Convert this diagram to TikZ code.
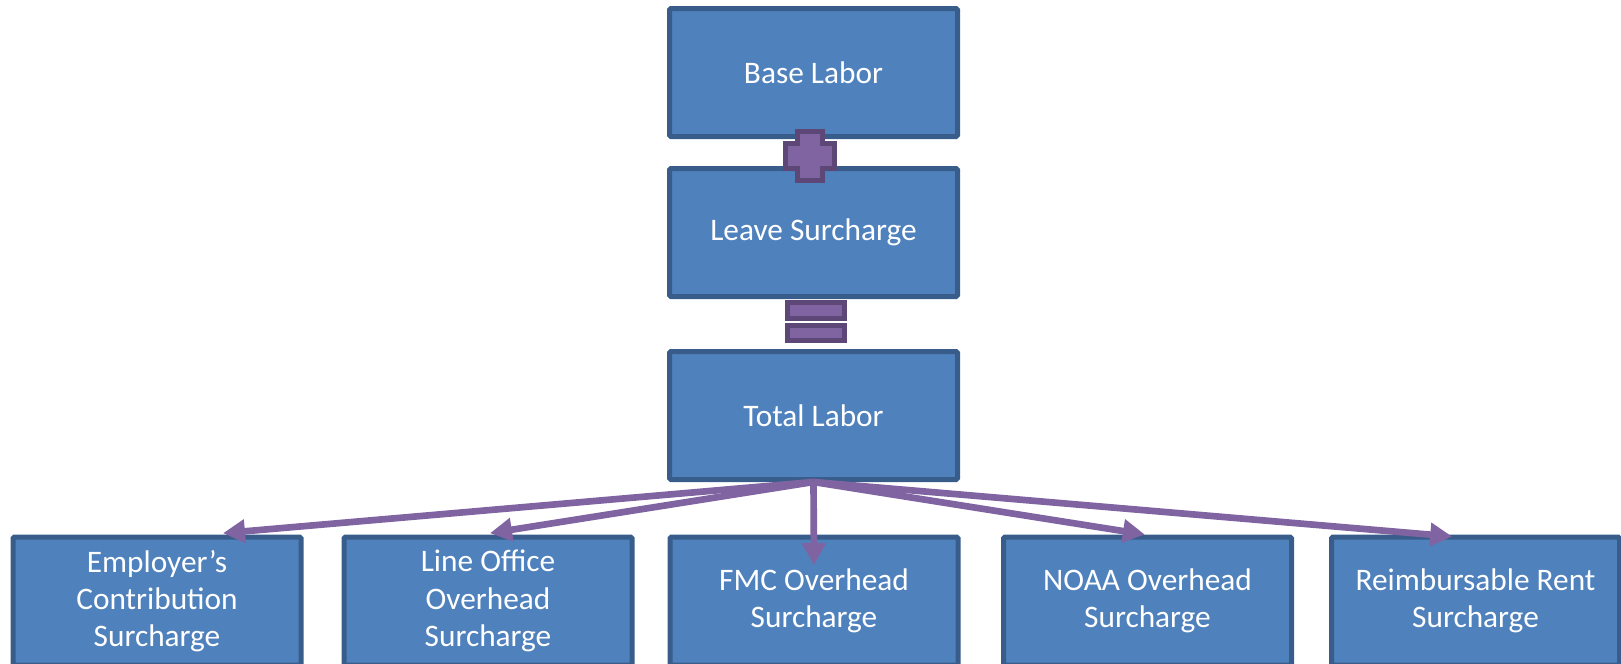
\documentclass[tikz,border=0pt]{standalone}
\usepackage{fontspec}
\setmainfont{Carlito}
\usetikzlibrary{arrows.meta}

\definecolor{boxfill}{HTML}{4F81BD}
\definecolor{boxline}{HTML}{385D8A}
\definecolor{opfill}{HTML}{8064A2}
\definecolor{opline}{HTML}{5C4776}

\begin{document}
\begin{tikzpicture}[%show background rectangle,
        x=0.75pt, y=-0.75pt, % 1 Einheit = 1 Pixel
        font=\fontsize{23.5}{28}\selectfont,
        box/.style={draw=boxline, fill=boxfill, line width=3.75pt,
            minimum width=216pt, minimum height=96pt, inner sep=0pt,
            text=white, align=center, rounded corners=1pt},
        op/.style={draw=opline, fill=opfill, line width=3.75pt},
        flow/.style={draw=opfill, line width=5pt},
        >={Triangle[length=16.5pt,width=17pt]} % Voreinstellung für Pfeilspitzen
        ]
            \useasboundingbox (0,0) rectangle (1621,664);

            % Kästen oben
            \node[box] (base)  at (813.5,72.5) {Base Labor};
            \node[box] (leave) at (813.5,232.5) {Leave Surcharge};
            \node[box] (total) at (813.5,415.5) {Total Labor};

            % Kästen unten
            \node[box] (emp)    at (157,601)    {Employer’s\\Contribution\\Surcharge};
            \node[box] (office) at (488,601)    {Line Office\\Overhead\\Surcharge};
            \node[box] (fmc)    at (814,601)    {FMC Overhead\\Surcharge};
            \node[box] (noaa)   at (1147.5,601) {NOAA Overhead\\Surcharge};
            \node[box] (rent)   at (1475.5,601) {Reimbursable Rent\\Surcharge};

            % Plus, Gleich
            \draw[op] (797.5,131) -- (822.5,131) -- (822.5,143) -- (834.5,143)
                      -- (834.5,168) -- (822.5,168) -- (822.5,180) -- (797.5,180)
                      -- (797.5,168) -- (785.5,168) -- (785.5,143) -- (797.5,143)
                      -- cycle;
            \draw[op] (787.5,302.5) rectangle (844,318)
                      (787.5,325) rectangle (844,340);

            % Pfeile
            \draw[flow,->] (total.south) -- ([xshift=49.5pt,yshift=1pt]emp.north);
            \draw[flow,->] (total.south) -- ([xshift=1.5pt,yshift=1pt]office.north);
            \draw[flow,->] (total.south) -- ([yshift=-23pt]fmc.north);
            \draw[flow,->] (total.south) -- ([xshift=-2pt]noaa.north);
            \draw[flow,->] (total.south) -- ([xshift=-17.5pt,yshift=-1.5pt]rent.north);

        \end{tikzpicture}
\end{document}
